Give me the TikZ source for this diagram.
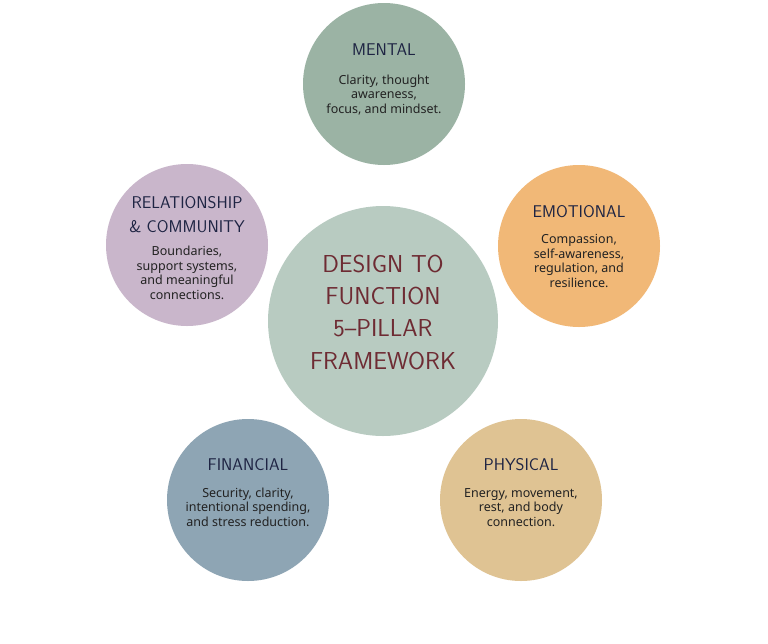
\documentclass[tikz,border=0pt]{standalone}
\usepackage{fontspec}
\setmainfont{Noto Sans}
\definecolor{cMental}{HTML}{9BB3A4}
\definecolor{cHub}{HTML}{B8CBC1}
\definecolor{cRel}{HTML}{C9B6CB}
\definecolor{cEmo}{HTML}{F1B877}
\definecolor{cFin}{HTML}{8EA5B4}
\definecolor{cPhy}{HTML}{DFC393}
\definecolor{cNavy}{HTML}{1E2443}
\definecolor{cRed}{HTML}{6E2B33}
\definecolor{cBody}{HTML}{222222}
\tikzset{
  pillar/.style={circle, minimum size=162pt, inner sep=0pt, fill=#1},
  hub/.style={circle, minimum size=230pt, inner sep=0pt, fill=cHub},
  ptitle/.style={anchor=base, align=center, text=cNavy, inner sep=0pt,
    font=\sffamily\fontsize{17}{24}\selectfont},
  pbody/.style={anchor=base, align=center, text=cBody, inner sep=0pt,
    font=\fontsize{12.5}{14.5}\selectfont},
  ctitle/.style={anchor=base, align=center, text=cRed, inner sep=0pt,
    font=\sffamily\fontsize{24.5}{32.2}\selectfont}
}
\begin{document}
\begin{tikzpicture}[x=1pt,y=-1pt]
\useasboundingbox (0,0) rectangle (768,643);
\fill[white] (0,0) rectangle (768,643);
% circles
\node[pillar=cMental] (mental) at (384,84) {};
\node[pillar=cRel] (rel) at (187,245) {};
\node[pillar=cEmo] (emo) at (579,246) {};
\node[pillar=cFin] (fin) at (248,500) {};
\node[pillar=cPhy] (phy) at (521,500) {};
\node[hub] (hub) at (383,321) {};
% center text (anchor = baseline of last line)
\node[ctitle] (hubT) at (383,369) {DESIGN TO\\FUNCTION\\5--PILLAR\\FRAMEWORK};
% mental
\node[ptitle] (mentalT) at (384,55) {MENTAL};
\node[pbody] (mentalB) at (384,113) {Clarity, thought\\awareness,\\focus, and mindset.};
% relationship
\node[ptitle] (relT) at (187,232) {RELATIONSHIP\\\& COMMUNITY};
\node[pbody] (relB) at (187,299) {Boundaries,\\support systems,\\and meaningful\\connections.};
% emotional
\node[ptitle] (emoT) at (579,217) {EMOTIONAL};
\node[pbody] (emoB) at (579,287) {Compassion,\\self-awareness,\\regulation, and\\resilience.};
% financial
\node[ptitle] (finT) at (248,470) {FINANCIAL};
\node[pbody] (finB) at (248,526) {Security, clarity,\\intentional spending,\\and stress reduction.};
% physical
\node[ptitle] (phyT) at (521,470) {PHYSICAL};
\node[pbody] (phyB) at (521,526) {Energy, movement,\\rest, and body\\connection.};
\end{tikzpicture}
\end{document}
